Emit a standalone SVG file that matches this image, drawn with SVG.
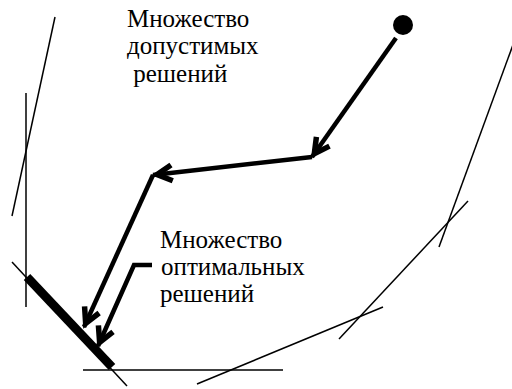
<svg xmlns="http://www.w3.org/2000/svg" width="512" height="389" viewBox="0 0 512 389">
<style>
.thin{stroke:#000;stroke-width:1.5;fill:none}
.arr{stroke:#000;stroke-width:4.5;fill:none;stroke-linejoin:miter}
text{font-family:'Liberation Serif','Times New Roman',serif;font-size:25px;fill:#000}
</style>
<defs>
<marker id="chev" markerUnits="userSpaceOnUse" orient="auto" refX="0" refY="0" markerWidth="30" markerHeight="30" overflow="visible">
<path d="M-19,-8 L-4,0 L-19,8" fill="none" stroke="#000" stroke-width="5.5"/>
</marker>
</defs>
<g id="boundary">
<line class="thin" x1="55" y1="17" x2="12" y2="216"/>
<line class="thin" x1="26" y1="93" x2="26" y2="307"/>
<line class="thin" x1="12" y1="262" x2="127" y2="386"/>
<line class="thin" x1="83" y1="370" x2="283" y2="370"/>
<line class="thin" x1="197" y1="384" x2="383" y2="307"/>
<line class="thin" x1="339" y1="339" x2="468" y2="201"/>
<line class="thin" x1="439" y1="247" x2="514" y2="42"/>
</g>
<g id="optimal-set">
<line x1="27" y1="277" x2="112" y2="367" stroke="#000" stroke-width="9"/>
</g>
<g id="start-point">
<circle cx="403" cy="25" r="10" fill="#000"/>
</g>
<g id="connectors">
<path class="arr" d="M396,38 L312,157" marker-end="url(#chev)"/>
<path class="arr" d="M312,157 L153,175" marker-end="url(#chev)"/>
<path class="arr" d="M153,175 L84,327" marker-end="url(#chev)"/>
<path class="arr" d="M152,265 L134,265 L98,346" marker-end="url(#chev)"/>
</g>
<g id="label-feasible">
<text x="127" y="27">Множество</text>
<text x="127" y="54">допустимых</text>
<text x="127" y="82" xml:space="preserve"> решений</text>
</g>
<g id="label-optimal">
<text x="160" y="248">Множество</text>
<text x="161" y="275">оптимальных</text>
<text x="160" y="302">решений</text>
</g>
</svg>
